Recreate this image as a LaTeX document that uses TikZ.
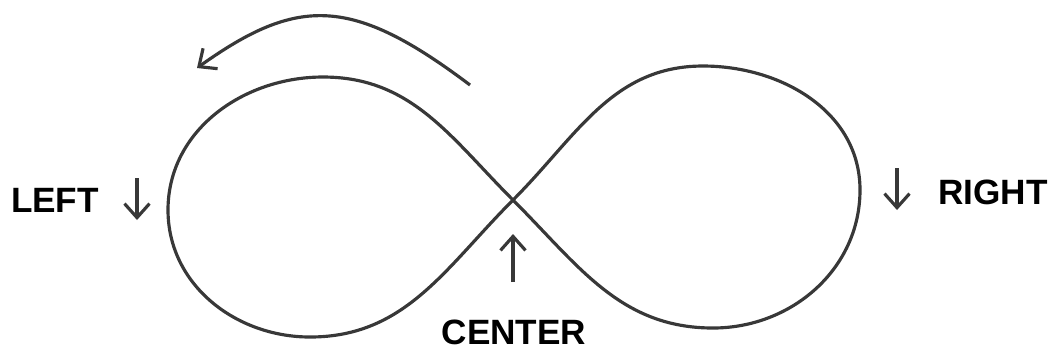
\documentclass[tikz,border=0pt]{standalone}
\usepackage{fontspec}
\setmainfont{Liberation Sans}
\usetikzlibrary{arrows.meta}

\tikzset{
    loopline/.style={draw=black!78, line width=0.9pt},
    markarrow/.style={black!78, line width=0.9pt, -{Straight Barb[length=1.4mm,width=2.5mm]}},
    sidelabel/.style={font=\bfseries\fontsize{10}{12}\selectfont, inner sep=0pt}
}

\begin{document}
\begin{tikzpicture}[x=0.01cm, y=0.01cm]
    \useasboundingbox (0,0) rectangle (1049,350);

    % Points of the figure eight
    \coordinate (cross) at (513,150);
    \coordinate (rtop) at (703,284);
    \coordinate (rside) at (860,160);
    \coordinate (rbot) at (713,22);
    \coordinate (ltop) at (323,273);
    \coordinate (lside) at (168,140);
    \coordinate (lbot) at (310,13);

    % The figure eight
    \draw[loopline] (cross) to[out=45,in=180] (rtop)
        to[out=0,in=90] (rside)
        to[out=-90,in=0] (rbot)
        to[out=180,in=-45] (cross)
        to[out=135,in=0] (ltop)
        to[out=180,in=90] (lside)
        to[out=-90,in=180] (lbot)
        to[out=0,in=-135] (cross);

    % Turning arrow on top
    \coordinate (turnstart) at (470,265);
    \coordinate (turnend) at (197,282);
    \draw[markarrow] (turnstart) .. controls (352,354) and (298,354) .. (turnend);

    % Labels
    \node[sidelabel] (left) at (55,150) {LEFT};
    \node[sidelabel] (right) at (993,158) {RIGHT};
    \node[sidelabel] (center) at (514,18) {CENTER};

    % Small arrows beside the labels
    \coordinate (lfrom) at (137,172);
    \coordinate (lto) at (137,130);
    \draw[markarrow] (lfrom) -- (lto);
    \coordinate (rfrom) at (897,182);
    \coordinate (rto) at (897,140);
    \draw[markarrow] (rfrom) -- (rto);
    \coordinate (cfrom) at (513,68);
    \coordinate (cto) at (513,116);
    \draw[markarrow] (cfrom) -- (cto);

\end{tikzpicture}
\end{document}
